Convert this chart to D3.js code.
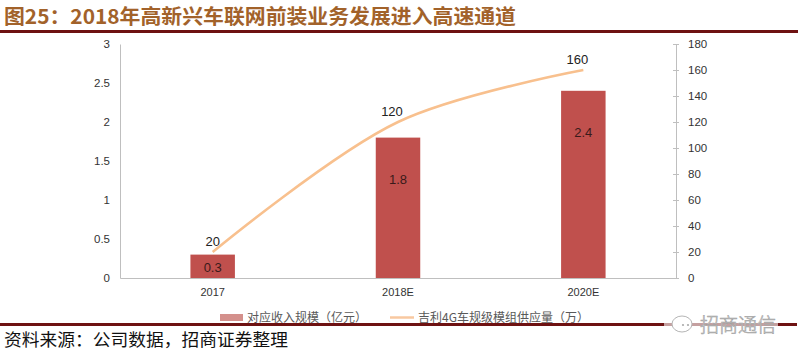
<!DOCTYPE html>
<html><head><meta charset="utf-8">
<script src="https://cdn.jsdelivr.net/npm/d3@7"></script>
<style>body{margin:0;background:#fff;}svg{display:block;}</style>
</head><body>
<script>
const categories = ["2017", "2018E", "2020E"];
const revenue = [0.3, 1.8, 2.4];
const modules = [20, 120, 160];
const leftTicks = [0, 0.5, 1, 1.5, 2, 2.5, 3];
const rightTicks = [0, 20, 40, 60, 80, 100, 120, 140, 160, 180];
const seriesNames = ["对应收入规模（亿元）", "吉利4G车规级模组供应量（万）"];
const titleText = "图25：2018年高新兴车联网前装业务发展进入高速通道";
const sourceText = "资料来源：公司数据，招商证券整理";
const brandText = "招商通信";

const W = 801, H = 361;
const svg = d3.select("body").append("svg").attr("width", W).attr("height", H);
const font = "'Liberation Sans', Arial, sans-serif";
const cjk = "'Noto Sans CJK SC', sans-serif";

// title
svg.append("text").attr("x", 4).attr("y", 24).text(titleText)
  .attr("font-family", cjk).attr("font-weight", "bold").attr("font-size", 20)
  .attr("fill", "#a2622a").attr("textLength", 512).attr("lengthAdjust", "spacingAndGlyphs");
svg.append("rect").attr("x", 0).attr("y", 30).attr("width", 798).attr("height", 3).attr("fill", "#6e1212");

const m = {l: 120, r: 676, t: 44, b: 278};
const x = d3.scaleBand().domain(categories).range([m.l, m.r]).paddingInner(0.76).paddingOuter(0.38);
const yL = d3.scaleLinear().domain([0, 3]).range([m.b, m.t]);
const yR = d3.scaleLinear().domain([0, 180]).range([m.b, m.t]);

const axisColor = "#bfbfbf";
const gL = svg.append("g").attr("transform", `translate(${m.l},0)`)
  .call(d3.axisLeft(yL).tickValues(leftTicks).tickSize(0).tickPadding(10).tickFormat(d3.format("")));
gL.select(".domain").attr("stroke", axisColor);
gL.selectAll("text").attr("font-family", font).attr("font-size", 11.5).attr("fill", "#333");
const gR = svg.append("g").attr("transform", `translate(${m.r},0)`)
  .call(d3.axisRight(yR).tickValues(rightTicks).tickSize(3).tickPadding(9).tickFormat(d3.format("")));
gR.select(".domain").attr("stroke", axisColor);
gR.selectAll("line").attr("stroke", axisColor).attr("x1", -3);
gR.selectAll("text").attr("font-family", font).attr("font-size", 11.5).attr("fill", "#333");
const gX = svg.append("g").attr("transform", `translate(0,${m.b})`)
  .call(d3.axisBottom(x).tickSize(0).tickPadding(10));
gX.select(".domain").attr("stroke", axisColor);
gX.selectAll("text").attr("font-family", font).attr("font-size", 11).attr("fill", "#333");

// bars
const barColor = "#c0504d";
svg.selectAll("rect.bar").data(revenue).join("rect").attr("class", "bar")
  .attr("x", (d, i) => x(categories[i])).attr("width", x.bandwidth())
  .attr("y", d => yL(d)).attr("height", d => yL(0) - yL(d)).attr("fill", barColor);
svg.selectAll("text.bl").data(revenue).join("text").attr("class", "bl")
  .attr("x", (d, i) => x(categories[i]) + x.bandwidth() / 2)
  .attr("y", d => yL(d) + Math.min((yL(0) - yL(d)) / 2 + 4, 44) + 2)
  .attr("text-anchor", "middle").attr("font-family", font).attr("font-size", 13)
  .attr("fill", "#3a1a1a").text(d => d);

// line
const pts = modules.map((d, i) => [x(categories[i]) + x.bandwidth() / 2, yR(d)]);
svg.append("path").attr("d", d3.line().curve(d3.curveCatmullRom.alpha(0.5))(pts))
  .attr("fill", "none").attr("stroke", "#f8c08e").attr("stroke-width", 2.5);
svg.selectAll("text.ll").data(modules).join("text").attr("class", "ll")
  .attr("x", (d, i) => pts[i][0] - (i > 0 ? 6 : 0)).attr("y", (d, i) => pts[i][1] - 6)
  .attr("text-anchor", "middle").attr("font-family", font).attr("font-size", 13)
  .attr("fill", "#222").text(d => d);

// legend
const lg = svg.append("g").attr("font-family", cjk).attr("font-size", 12).attr("fill", "#595959");
lg.append("rect").attr("x", 220).attr("y", 314).attr("width", 23).attr("height", 7).attr("fill", "#d4908c");
lg.append("text").attr("x", 247).attr("y", 322).text(seriesNames[0]);
lg.append("line").attr("x1", 390).attr("x2", 414).attr("y1", 317.5).attr("y2", 317.5).attr("stroke", "#f8c8a0").attr("stroke-width", 2.5);
lg.append("text").attr("x", 418).attr("y", 322).text(seriesNames[1]);

// footer rule
svg.append("rect").attr("x", 0).attr("y", 323).attr("width", 797).attr("height", 3).attr("fill", "#6e1212");
// brand watermark
const bg = svg.append("g");
bg.append("rect").attr("x", 664).attr("y", 314).attr("width", 114).attr("height", 22).attr("fill", "#fff").attr("opacity", 0.6);
bg.append("ellipse").attr("cx", 682).attr("cy", 324).attr("rx", 10).attr("ry", 8).attr("fill", "#fff").attr("stroke", "#b5b5b5").attr("stroke-width", 1);
bg.append("circle").attr("cx", 683).attr("cy", 325).attr("r", 1.1).attr("fill", "#aaa");
bg.append("circle").attr("cx", 688).attr("cy", 325).attr("r", 1.1).attr("fill", "#aaa");
bg.append("text").attr("x", 700).attr("y", 332).text(brandText)
  .attr("font-family", cjk).attr("font-weight", 300).attr("font-size", 19).attr("fill", "#f4f4f4")
  .attr("stroke", "#a0a0a0").attr("stroke-width", 0.6);
svg.append("text").attr("x", 4).attr("y", 346).text(sourceText)
  .attr("font-family", cjk).attr("font-size", 17).attr("fill", "#111").attr("textLength", 284).attr("lengthAdjust", "spacingAndGlyphs");
</script>
</body></html>
